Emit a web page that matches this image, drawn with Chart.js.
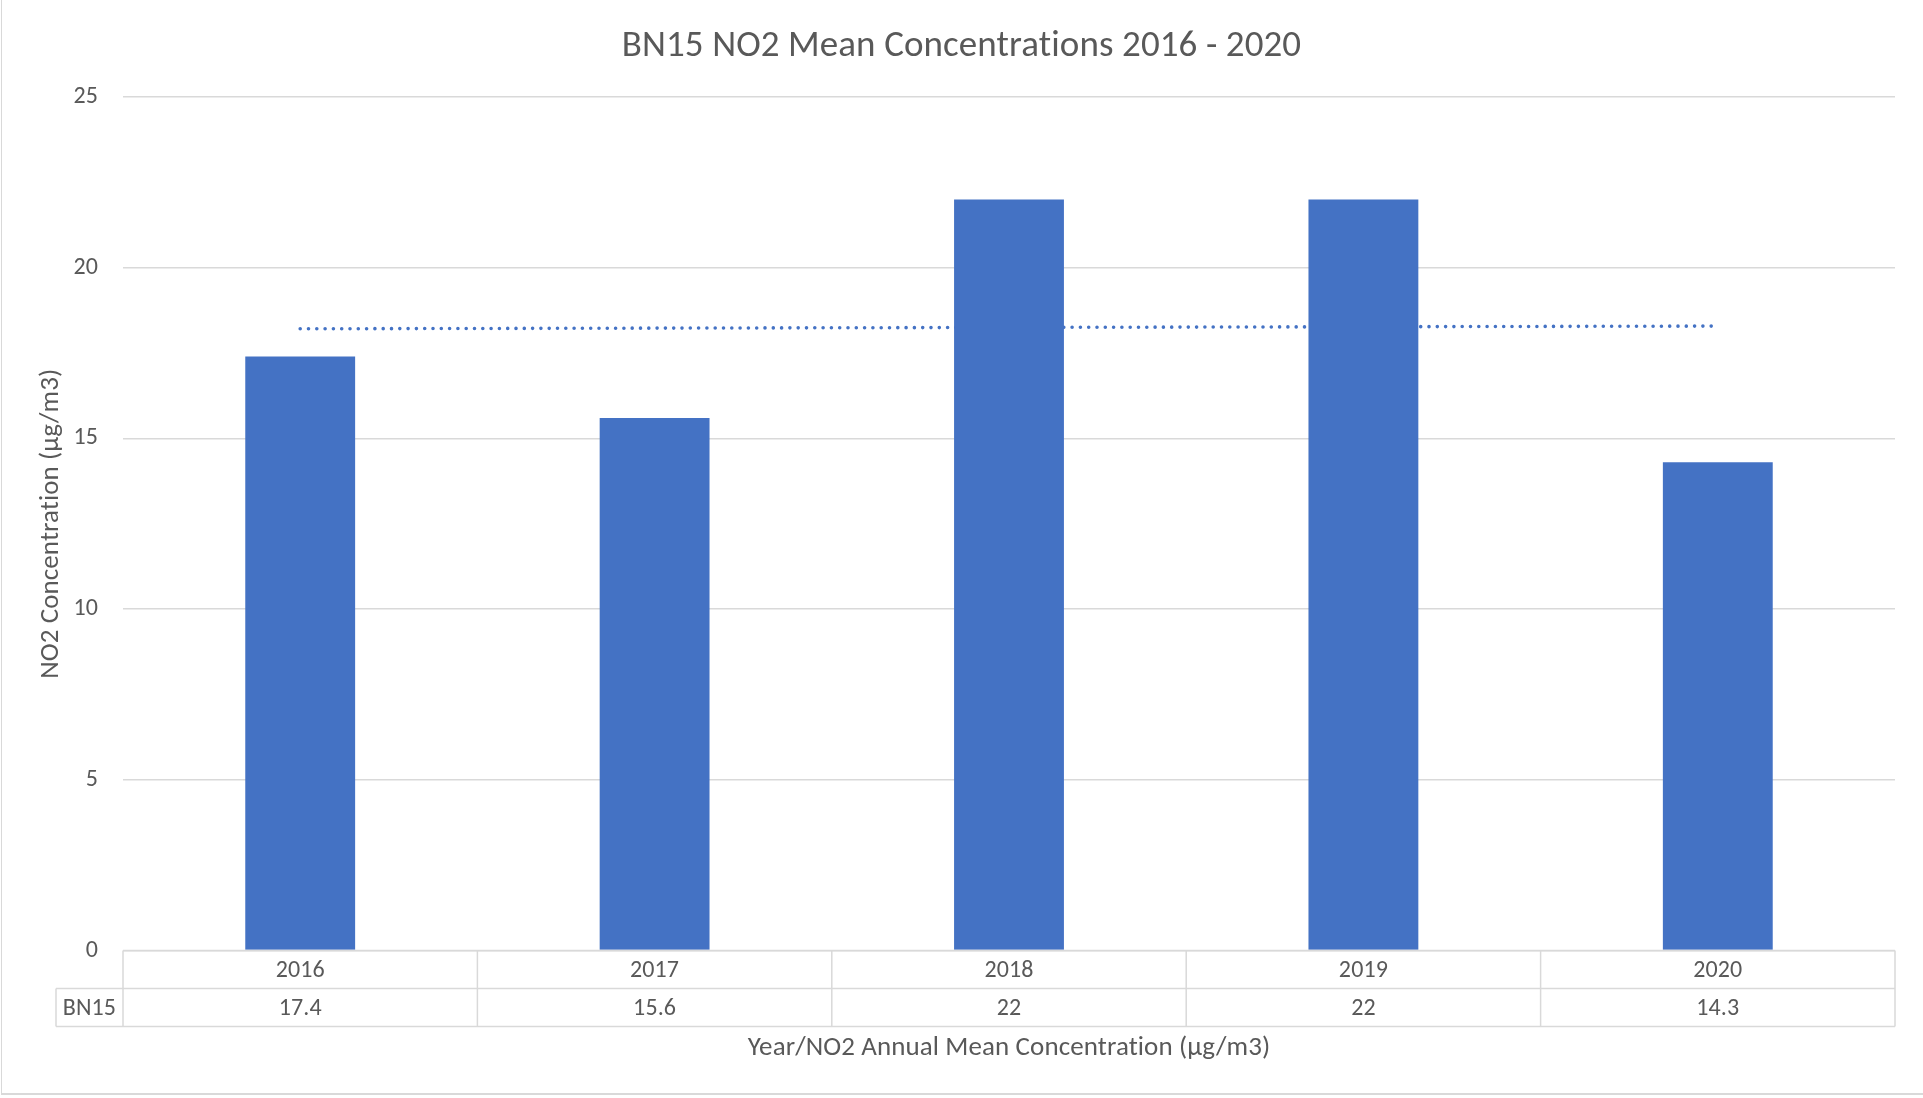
<!DOCTYPE html>
<html>
<head>
<meta charset="utf-8">
<script src="https://cdn.jsdelivr.net/npm/chart.js@4/dist/chart.umd.min.js"></script>
<style>
    html, body { margin: 0; padding: 0; background: #fff; }
    #wrap { position: relative; width: 1923px; height: 1098px; }
    #frame { position: absolute; left: 1px; top: -2px; width: 1930px; height: 1097px; border-left: 1px solid #d9d9d9; border-bottom: 2px solid #d9d9d9; box-sizing: border-box; pointer-events: none; }
</style>
</head>
<body>
<div id="wrap">
    <canvas id="chart"></canvas>
    <div id="frame"></div>
</div>
<script>
/* BN15 NO2 annual means with Excel-style data table under the axis */
const years = ['2016', '2017', '2018', '2019', '2020'];
const seriesName = 'BN15';
const no2Means = [17.4, 15.6, 22, 22, 14.3];
// linear trendline, read at its two ends
const trendEnds = [18.21, null, null, null, 18.29];
const yTicks = [0, 5, 10, 15, 20, 25];

const FONT = 'Carlito, Calibri, Lato, sans-serif';
const TXT = '#595959';
const GRID = '#d9d9d9';
const BLUE = '#4472c4';
const ROW_H = 38;
const LABEL_LEFT = 56;

// tiny letter spacing switches off the "ti" ligature, like the Excel original
const noLigatures = {
    id: 'noLigatures',
    beforeDraw(chart) { chart.ctx.letterSpacing = '0.1px'; }
};

const dataTable = {
    id: 'dataTable',
    afterDraw(chart) {
        const { ctx, chartArea: a, scales: { x } } = chart;
        const r0 = a.bottom, r1 = r0 + ROW_H, r2 = r1 + ROW_H;
        ctx.save();
        ctx.strokeStyle = GRID;
        ctx.lineWidth = 1.5;
        const line = (x1, y1, x2, y2) => { ctx.beginPath(); ctx.moveTo(x1, y1); ctx.lineTo(x2, y2); ctx.stroke(); };
        line(a.left, r0, a.right, r0);
        line(LABEL_LEFT, r1, a.right, r1);
        line(LABEL_LEFT, r2, a.right, r2);
        line(LABEL_LEFT, r1, LABEL_LEFT, r2);
        line(a.left, r0, a.left, r2);
        line(a.right, r0, a.right, r2);
        for (let i = 0; i < years.length - 1; i++) {
            const bx = (x.getPixelForValue(i) + x.getPixelForValue(i + 1)) / 2;
            line(bx, r0, bx, r2);
        }
        ctx.fillStyle = TXT;
        ctx.font = `24px ${FONT}`;
        ctx.textAlign = 'center';
        ctx.textBaseline = 'middle';
        years.forEach((y, i) => {
            const cx = x.getPixelForValue(i);
            ctx.fillText(y, cx, r0 + ROW_H / 2 + 1);
            ctx.fillText(String(no2Means[i]), cx, r1 + ROW_H / 2 + 1);
        });
        ctx.fillText(seriesName, (LABEL_LEFT + a.left) / 2, r1 + ROW_H / 2 + 1);
        ctx.font = `27px ${FONT}`;
        ctx.fillText('Year/NO2 Annual Mean Concentration (µg/m3)', (a.left + a.right) / 2, r2 + 22);
        ctx.restore();
    }
};

new Chart(document.getElementById('chart'), {
    type: 'bar',
    data: {
        labels: years,
        datasets: [{
            label: seriesName,
            data: no2Means,
            backgroundColor: BLUE,
            barPercentage: 0.31,
            categoryPercentage: 1,
            order: 1,
        }, {
            type: 'line',
            label: 'Linear (BN15)',
            data: trendEnds,
            spanGaps: true,
            borderColor: BLUE,
            borderWidth: 3.6,
            borderDash: [0, 8.3],
            borderCapStyle: 'round',
            pointRadius: 0,
            fill: false,
            order: 2,
        }]
    },
    options: {
        responsive: true,
        maintainAspectRatio: false,
        animation: false,
        layout: { padding: { left: 0, right: 0, bottom: 147.5, top: 0 } },
        plugins: {
            legend: { display: false },
            tooltip: { enabled: false },
            title: {
                display: true,
                text: 'BN15 NO2 Mean Concentrations 2016 - 2020',
                color: TXT,
                font: { family: FONT, size: 37, weight: 'normal', lineHeight: 1.2 },
                padding: { top: 24.7, bottom: 27.9 },
            },
        },
        scales: {
            x: { display: false },
            y: {
                min: 0,
                max: 25,
                afterFit: s => { s.width = 123; },
                afterBuildTicks: s => { s.ticks = yTicks.map(v => ({ value: v })); },
                grid: { color: GRID, lineWidth: 1.5, drawTicks: false },
                border: { display: false },
                ticks: { color: TXT, font: { family: FONT, size: 24 }, padding: 25 },
                title: {
                    display: true,
                    text: 'NO2 Concentration (µg/m3)',
                    color: TXT,
                    font: { family: FONT, size: 27, lineHeight: 1.2 },
                    padding: { top: 35.5, bottom: 0 },
                },
            },
            // empty right margin so the title stays centred on the whole canvas
            gap: {
                position: 'right',
                afterFit: s => { s.width = 28; },
                grid: { display: false },
                border: { display: false },
                ticks: { display: false },
            },
        },
    },
    plugins: [noLigatures, dataTable],
});
</script>
</body>
</html>
